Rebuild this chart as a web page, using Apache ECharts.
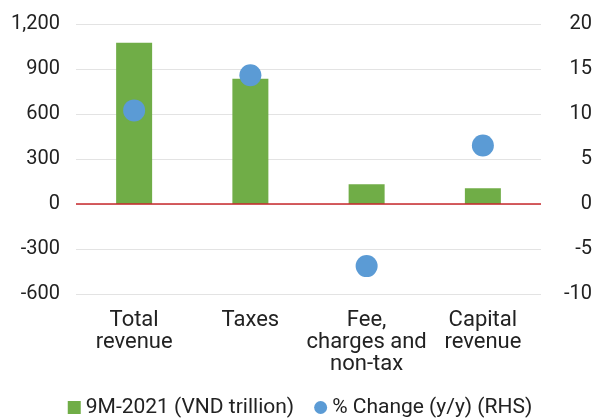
<!DOCTYPE html>
<html>
<head>
<meta charset="utf-8">
<script src="https://cdn.jsdelivr.net/npm/echarts@6/dist/echarts.min.js"></script>
<style>
html, body { margin: 0; padding: 0; background: #fff; }
#main { width: 600px; height: 420px; }
</style>
</head>
<body>
<div id="main"></div>
<script>
var categories = ['Total\nrevenue', 'Taxes', 'Fee,\ncharges and\nnon-tax', 'Capital\nrevenue'];
var revenue = [1075, 835, 131, 105];       // 9M-2021 (VND trillion)
var pctChange = [10.4, 14.3, -6.9, 6.5];   // % Change (y/y), right axis
var leftTicks = { min: -600, max: 1200, interval: 300 };
var rightTicks = { min: -10, max: 20, interval: 5 };

var font = 'Roboto';
var myChart = echarts.init(document.getElementById('main'));
var option = {
    animation: false,
    textStyle: { fontFamily: font },
    grid: { left: 76, right: 59, top: 24, bottom: 126 },
    legend: {
        top: 397,
        left: 'center',
        padding: 0,
        itemGap: 20,
        itemWidth: 13,
        itemHeight: 13,
        textStyle: { fontFamily: font, fontSize: 21, color: '#222' },
        data: [
            { name: '9M-2021 (VND trillion)', icon: 'rect' },
            { name: '% Change (y/y) (RHS)', icon: 'circle' }
        ]
    },
    xAxis: {
        type: 'category',
        data: categories,
        axisLine: { show: false },
        axisTick: { show: false },
        axisLabel: {
            color: '#222',
            fontSize: 22,
            lineHeight: 22,
            margin: 15,
            interval: 0
        }
    },
    yAxis: [
        {
            type: 'value',
            min: leftTicks.min, max: leftTicks.max, interval: leftTicks.interval,
            axisLine: { show: false },
            axisTick: { show: false },
            splitLine: { lineStyle: { color: '#e3e3e3', width: 1 } },
            axisLabel: {
                color: '#222', fontSize: 20, margin: 16,
                formatter: function (v) { return v.toLocaleString('en-US'); }
            }
        },
        {
            type: 'value',
            min: rightTicks.min, max: rightTicks.max, interval: rightTicks.interval,
            axisLine: { show: false },
            axisTick: { show: false },
            splitLine: { show: false },
            axisLabel: { color: '#222', fontSize: 20, margin: 51, align: 'right' }
        }
    ],
    series: [
        {
            name: '9M-2021 (VND trillion)',
            type: 'bar',
            data: revenue,
            barWidth: 36,
            itemStyle: { color: '#70AD47' },
            markLine: {
                silent: true,
                symbol: 'none',
                label: { show: false },
                lineStyle: { color: '#C8282D', width: 1.5, type: 'solid' },
                data: [{ yAxis: 0 }]
            }
        },
        {
            name: '% Change (y/y) (RHS)',
            type: 'scatter',
            yAxisIndex: 1,
            data: pctChange,
            symbolSize: 22,
            itemStyle: { color: '#5B9BD5', opacity: 1 }
        }
    ]
};
myChart.setOption(option);
</script>
</body>
</html>
